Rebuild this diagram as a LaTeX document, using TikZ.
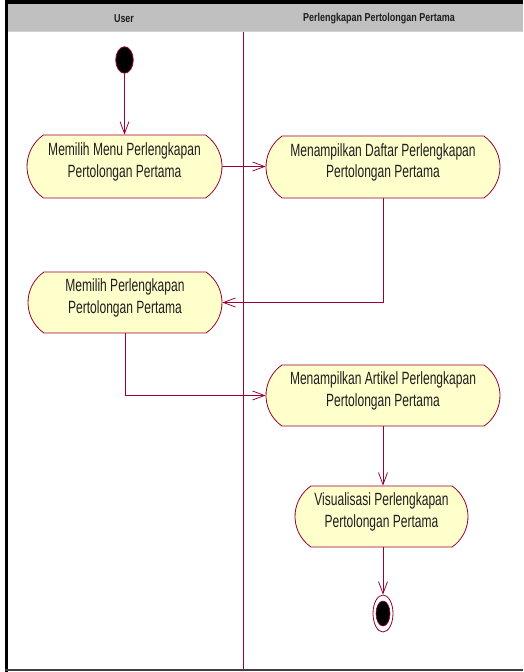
\documentclass[tikz,border=0pt]{standalone}
\usepackage{fontspec}
\setmainfont{Liberation Sans}[FakeStretch=0.68]
\newfontfamily\hdrfont{Liberation Sans}[FakeStretch=0.78]
\usetikzlibrary{shapes.misc,shapes.geometric,arrows.meta}
\definecolor{umlred}{RGB}{153,0,51}
\definecolor{actfill}{RGB}{255,255,204}
\definecolor{hdrgray}{RGB}{192,192,192}
\definecolor{txtdark}{RGB}{30,30,30}
\tikzset{
  act/.style={rounded rectangle, rounded rectangle arc length=110,
    draw=umlred, line width=0.8pt, fill=actfill, inner sep=0pt},
  acttext/.style={font=\fontsize{17.7}{21.2}\selectfont, text=txtdark,
    align=center, inner sep=0pt, yshift=4.6pt},
  hdrtext/.style={font=\hdrfont\bfseries\fontsize{11.5}{13}\selectfont,
    text=txtdark, inner sep=0pt},
  flow/.style={draw=umlred, line width=0.75pt,
    -{Straight Barb[length=12pt,width=9pt,line width=0.75pt]}},
  startnode/.style={ellipse, fill=black, draw=umlred, line width=0.8pt,
    inner sep=0pt, minimum width=17.5pt, minimum height=26.5pt},
}
\begin{document}
\begin{tikzpicture}[x=1pt,y=-1pt]
\useasboundingbox (0,0) rectangle (523,672);

% swimlane frame and headers
\fill[hdrgray] (7,4) rectangle (523,31);
\draw[gray!35, line width=1pt] (7,31.5) -- (523,31.5);
\draw[black, line width=4pt] (5,2) -- (523,2);
\draw[black, line width=3pt] (6.5,0) -- (6.5,672);
\draw[black!75, line width=2pt] (5,670) -- (523,670);
\draw[umlred, line width=0.8pt] (243,32) -- (243,669);
\node[hdrtext] (hUser) at (124,18.5) {User};
\node[hdrtext] (hPP) at (379,18.5) {Perlengkapan Pertolongan Pertama};

% initial and final states
\node[startnode] (st) at (124.5,60) {};
\node[ellipse, draw=umlred, line width=0.8pt, fill=white, inner sep=0pt,
  minimum width=20pt, minimum height=37pt] (fin) at (383,613.5) {};
\node[ellipse, draw=umlred, line width=0.6pt, fill=black, inner sep=0pt,
  minimum width=14pt, minimum height=25pt] (finin) at (383,613.5) {};

% activities
\node[act, minimum width=195pt, minimum height=63pt] (a) at (124.5,166.5) {};
\node[acttext] (at) at (a) {Memilih Menu Perlengkapan\\Pertolongan Pertama};

\node[act, minimum width=234pt, minimum height=62pt] (b) at (383,167) {};
\node[acttext] (bt) at (b) {Menampilkan Daftar Perlengkapan\\Pertolongan Pertama};

\node[act, minimum width=194pt, minimum height=61pt] (c) at (125,302.5) {};
\node[acttext] (ct) at (c) {Memilih Perlengkapan\\Pertolongan Pertama};

\node[act, minimum width=234pt, minimum height=61pt] (d) at (383,395.5) {};
\node[acttext] (dt) at (d) {Menampilkan Artikel Perlengkapan\\Pertolongan Pertama};

\node[act, minimum width=173pt, minimum height=61pt] (e) at (381.5,516.5) {};
\node[acttext] (et) at (e) {Visualisasi Perlengkapan\\Pertolongan Pertama};

% transitions
\draw[flow] (st.south) -- (a.north);
\draw[flow] (a.east) -- (a.east -| b.west);
\draw[flow] (b.south) |- (c.east);
\draw[flow] (c.south) |- (d.west);
\draw[flow] (d.south) -- (d.south |- e.north);
\draw[flow] (fin.north |- e.south) -- (fin.north);
\end{tikzpicture}
\end{document}
